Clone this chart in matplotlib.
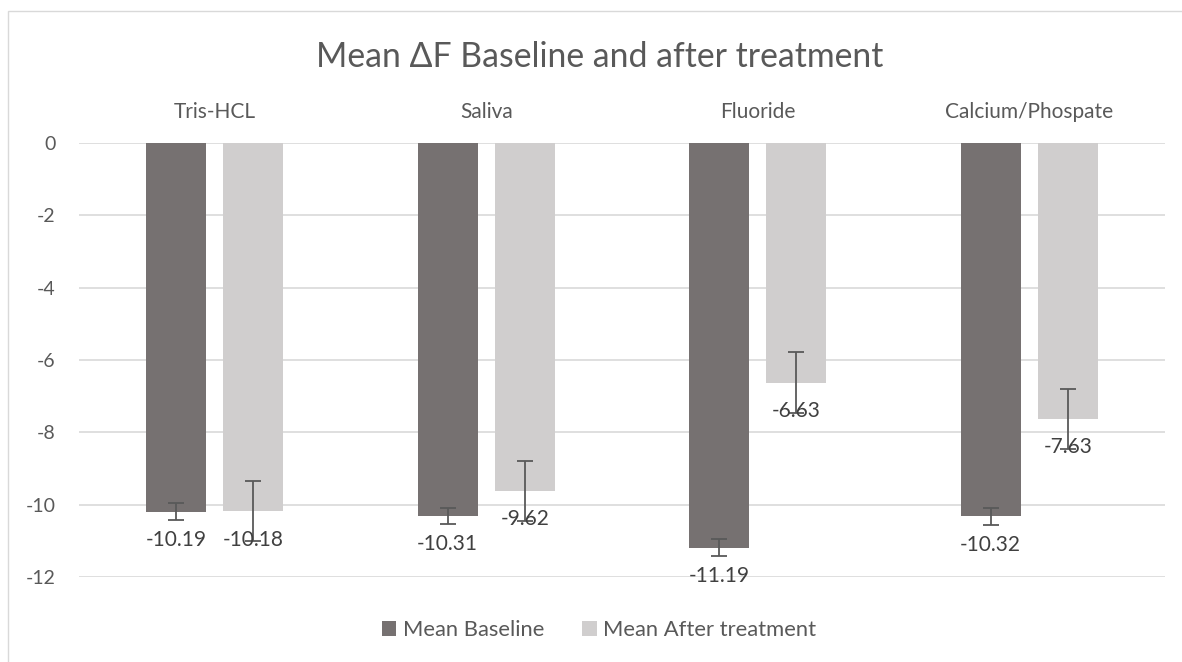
import matplotlib
matplotlib.use("Agg")
import matplotlib.pyplot as plt
import numpy as np
from matplotlib.patches import Rectangle

categories = ["Tris-HCL", "Saliva", "Fluoride", "Calcium/Phospate"]
baseline = [-10.19, -10.31, -11.19, -10.32]
after = [-10.18, -9.62, -6.63, -7.63]
baseline_err = [0.23, 0.23, 0.24, 0.23]
after_err = [0.83, 0.83, 0.84, 0.84]
yticks = [0, -2, -4, -6, -8, -10, -12]

plt.rcParams['font.family'] = ['Lato', 'DejaVu Sans']
txt = '#595959'
c_base = '#767171'
c_after = '#d0cece'

fig = plt.figure(figsize=(11.82, 6.62), dpi=100)
fig.patches.append(Rectangle((8/1182, -0.1), 1.2, 1 - 11/662 + 0.1, transform=fig.transFigure,
                             fill=False, edgecolor='#d9d9d9', linewidth=1))
ax = fig.add_axes([79/1182, 1 - 577/662, 1086/1182, (577 - 143)/662])

x = np.arange(len(categories))
w = 0.221
off = 0.142
b1 = ax.bar(x - off, baseline, w, color=c_base, label='Mean Baseline', zorder=2)
b2 = ax.bar(x + off, after, w, color=c_after, label='Mean After treatment', zorder=2)
ax.errorbar(x - off, baseline, yerr=baseline_err, fmt='none', ecolor='#595959', elinewidth=1.3, capsize=6, capthick=1.3, zorder=3)
ax.errorbar(x + off, after, yerr=after_err, fmt='none', ecolor='#595959', elinewidth=1.3, capsize=6, capthick=1.3, zorder=3)

for xs, vals in ((x - off, baseline), (x + off, after)):
    for xi, v in zip(xs, vals):
        ax.annotate(f"{v:.2f}", (xi, v), xytext=(0, -20.5), textcoords='offset points',
                    ha='center', va='center', fontsize=15, color='#404040', zorder=4)

ax.set_xlim(-0.5, 3.5)
ax.set_ylim(-12, 0)
ax.set_yticks(yticks)
ax.set_yticklabels([str(t) for t in yticks])
ax.yaxis.grid(True, color='#d9d9d9', linewidth=1.2, zorder=0)
ax.set_axisbelow(True)
for s in ax.spines.values():
    s.set_visible(False)
ax.tick_params(axis='y', length=0, labelsize=14, labelcolor=txt, pad=17)
ax.xaxis.tick_top()
ax.set_xticks(x)
ax.set_xticklabels(categories)
ax.tick_params(axis='x', length=0, labelsize=15, labelcolor=txt, pad=15)

fig.text(600/1182, 1 - 57/662, "Mean ΔF Baseline and after treatment", ha='center', va='center',
         fontsize=24.3, color=txt)

fig.legend(handles=[b1, b2], loc='center', bbox_to_anchor=(599/1182, 1 - 630/662), ncol=2, frameon=False,
           fontsize=15.8, labelcolor=txt, handlelength=0.65, handleheight=0.65, handletextpad=0.3,
           columnspacing=1.75)

fig.savefig("out.png", dpi=100)
